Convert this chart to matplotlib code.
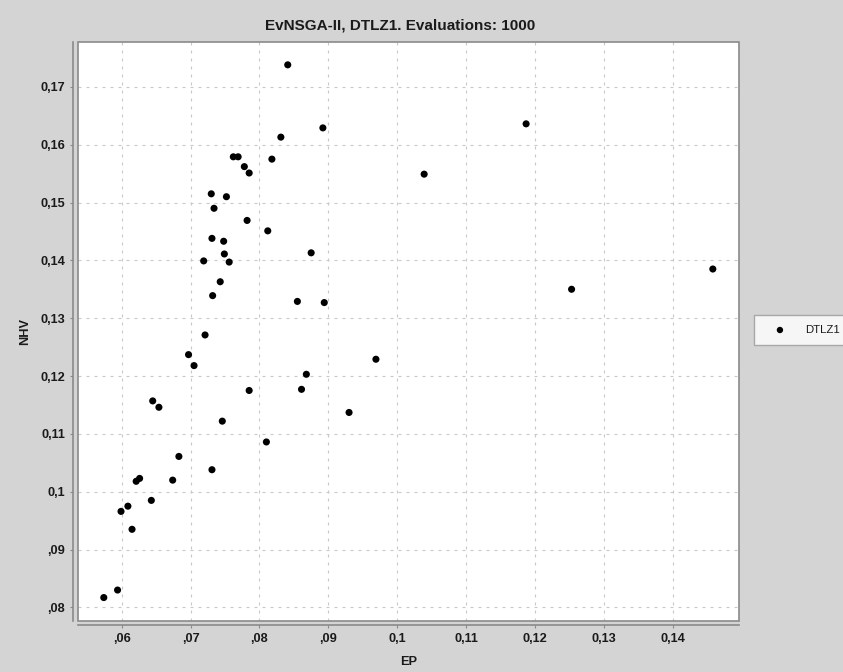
import numpy as np
import matplotlib
matplotlib.use("Agg")
import matplotlib.pyplot as plt
from matplotlib.patches import Rectangle

# EP / NHV values
ep = [0.0841, 0.0892, 0.0831, 0.0762, 0.0769, 0.0818, 0.0778, 0.0785, 0.0730, 0.0752,
      0.0734, 0.0782, 0.0812, 0.0731, 0.0748, 0.0875, 0.0749, 0.0719, 0.0756, 0.0743,
      0.0732, 0.0855, 0.0894, 0.0721, 0.0697, 0.0705, 0.0969, 0.0868, 0.0861, 0.0785,
      0.0645, 0.0654, 0.0746, 0.0930, 0.0810, 0.0683, 0.0731, 0.0621, 0.0626, 0.0674,
      0.0643, 0.0609, 0.0599, 0.0615, 0.0594, 0.0574, 0.1187, 0.1039, 0.1253, 0.1458]
nhv = [0.1738, 0.1629, 0.1613, 0.1579, 0.1579, 0.1575, 0.1562, 0.1551, 0.1515, 0.1510,
       0.1490, 0.1469, 0.1451, 0.1438, 0.1433, 0.1413, 0.1411, 0.1399, 0.1397, 0.1363,
       0.1339, 0.1329, 0.1327, 0.1271, 0.1237, 0.1218, 0.1229, 0.1203, 0.1177, 0.1175,
       0.1157, 0.1146, 0.1122, 0.1137, 0.1086, 0.1061, 0.1038, 0.1018, 0.1023, 0.1020,
       0.0985, 0.0975, 0.0966, 0.0935, 0.0830, 0.0817, 0.1636, 0.1549, 0.1350, 0.1385]

x_ticks = [0.06, 0.07, 0.08, 0.09, 0.10, 0.11, 0.12, 0.13, 0.14]
x_tick_labels = [",06", ",07", ",08", ",09", "0,1", "0,11", "0,12", "0,13", "0,14"]
y_ticks = [0.08, 0.09, 0.10, 0.11, 0.12, 0.13, 0.14, 0.15, 0.16, 0.17]
y_tick_labels = [",08", ",09", "0,1", "0,11", "0,12", "0,13", "0,14", "0,15", "0,16", "0,17"]

plt.rcParams["font.family"] = ["Liberation Sans", "DejaVu Sans"]

W, H = 843, 672
bg = "#d4d4d4"
edge = "#8a8a8a"
txt = "#1a1a1a"

fig = plt.figure(figsize=(W / 100, H / 100), dpi=100, facecolor=bg)
left, right, top, bottom = 78.3, 739, 41.7, 620.7
ax = fig.add_axes([left / W, 1 - bottom / H, (right - left) / W, (bottom - top) / H])
ax.set_facecolor("white")

ax.scatter(ep, nhv, s=26, color="black", edgecolors="none", zorder=3, label="DTLZ1")

ax.set_xlim(0.0537, 0.1496)
ax.set_ylim(0.0777, 0.1778)
ax.set_xticks(x_ticks)
ax.set_xticklabels(x_tick_labels)
ax.set_yticks(y_ticks)
ax.set_yticklabels(y_tick_labels)

ax.grid(True, color="#c8c8c8", linewidth=0.8, linestyle=(0, (2.7, 4.5)))
ax.set_axisbelow(True)

# plot frame
for s in ["top", "right"]:
    ax.spines[s].set_visible(False)
ax.add_patch(Rectangle((0, 0), 1, 1, transform=ax.transAxes, fill=False,
                       edgecolor=edge, linewidth=1.2, zorder=5, clip_on=False))
# detached axis lines
ax.spines["left"].set_position(("outward", 4))
ax.spines["bottom"].set_position(("outward", 3))
for s in ["left", "bottom"]:
    ax.spines[s].set_color(edge)
    ax.spines[s].set_linewidth(1.2)

ax.tick_params(axis="both", direction="out", length=2.5, width=0.8, color=edge,
               labelsize=9.2, pad=3)
for lab in ax.get_xticklabels() + ax.get_yticklabels():
    lab.set_fontweight("bold")
    lab.set_color(txt)

ax.set_xlabel("EP", fontsize=9.2, fontweight="bold", color=txt)
ax.xaxis.set_label_coords(0.5, -(656 - bottom) / (bottom - top))
ax.set_ylabel("NHV", fontsize=9.2, fontweight="bold", color=txt)
ax.yaxis.set_label_coords(-(left - 31) / (right - left), 0.5)

fig.text(400 / W, 1 - 26 / H, "EvNSGA-II, DTLZ1. Evaluations: 1000",
         ha="center", va="center", fontsize=11, fontweight="bold", color=txt)

leg = ax.legend(loc="center left", bbox_to_anchor=(754.3 / W, 1 - 330 / H),
                bbox_transform=fig.transFigure, borderaxespad=0, fancybox=False,
                fontsize=8.2, borderpad=0.85, handlelength=2.8, handletextpad=0.85,
                markerscale=0.9)
leg.get_frame().set_edgecolor("#999999")
leg.get_frame().set_linewidth(1.0)
for t in leg.get_texts():
    t.set_color(txt)

fig.savefig("out.png", dpi=100, facecolor=bg)
